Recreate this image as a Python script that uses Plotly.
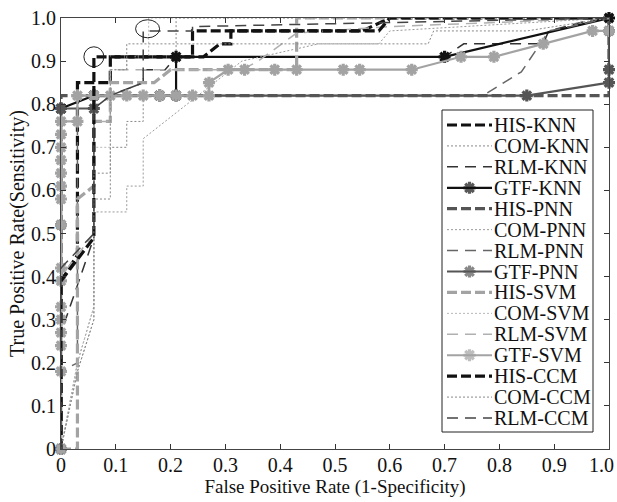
import plotly.graph_objects as go

# ---------------- data ----------------
names = ["HIS-KNN", "COM-KNN", "RLM-KNN", "GTF-KNN",
         "HIS-PNN", "COM-PNN", "RLM-PNN", "GTF-PNN",
         "HIS-SVM", "COM-SVM", "RLM-SVM", "GTF-SVM",
         "HIS-CCM", "COM-CCM", "RLM-CCM"]

his_knn_x = [0, 0, 0.03, 0.03, 0.09, 0.09, 0.26, 0.29, 0.31, 0.31, 0.55, 0.60, 1.0]
his_knn_y = [0, 0.39, 0.45, 0.85, 0.85, 0.91, 0.91, 0.94, 0.94, 0.97, 0.97, 1.0, 1.0]

com_knn_x = [0, 0.03, 0.06, 0.06, 0.09, 0.09, 0.12, 0.12, 0.15, 0.15, 0.21, 0.21, 1.0]
com_knn_y = [0, 0.20, 0.33, 0.58, 0.58, 0.70, 0.70, 0.76, 0.76, 0.82, 0.82, 1.0, 1.0]

rlm_knn_x = [0, 0, 0.06, 0.06, 0.09, 0.15, 0.15, 0.19, 0.21, 0.70, 0.735, 0.88, 0.89, 0.95, 1.0]
rlm_knn_y = [0, 0.27, 0.49, 0.79, 0.82, 0.85, 0.88, 0.88, 0.91, 0.91, 0.94, 0.94, 0.97, 0.99, 1.0]

gtf_knn_x = [0, 0, 0.06, 0.18, 0.21, 0.21, 0.70, 1.0]
gtf_knn_y = [0, 0.79, 0.82, 0.82, 0.82, 0.91, 0.91, 1.0]

his_pnn_x = [0, 0, 1.0, 1.0]
his_pnn_y = [0, 0.82, 0.82, 1.0]

com_pnn_x = [0, 0.03, 0.06, 0.06, 0.12, 0.12, 0.15, 0.15, 0.33, 0.47, 0.58, 0.60, 1.0]
com_pnn_y = [0, 0.18, 0.30, 0.55, 0.55, 0.61, 0.61, 0.72, 0.90, 0.94, 0.94, 0.97, 1.0]

rlm_pnn_x = [0, 0, 0.03, 0.03, 0.77, 0.84, 0.88, 0.89, 0.93, 1.0]
rlm_pnn_y = [0, 0.18, 0.20, 0.82, 0.82, 0.875, 0.95, 0.97, 0.98, 1.0]

gtf_pnn_x = [0, 0, 0, 0.06, 0.06, 0.85, 1.0, 1.0, 1.0]
gtf_pnn_y = [0, 0.52, 0.79, 0.79, 0.82, 0.82, 0.85, 0.88, 0.97]

his_svm_x = [0, 0.03, 0.03, 0.06, 0.06, 0.09, 0.09, 0.17, 0.20, 0.43, 0.43, 1.0]
his_svm_y = [0, 0, 0.58, 0.61, 0.76, 0.76, 0.85, 0.85, 0.88, 0.88, 1.0, 1.0]

com_svm_x = [0, 0.03, 0.06, 0.06, 0.09, 0.09, 0.12, 0.12, 0.16, 0.16, 1.0]
com_svm_y = [0, 0.20, 0.33, 0.70, 0.70, 0.88, 0.88, 0.91, 0.91, 1.0, 1.0]

rlm_svm_x = [0, 0, 0.06, 0.06, 0.09, 0.09, 0.33, 0.36, 0.43, 0.60, 1.0]
rlm_svm_y = [0, 0.40, 0.50, 0.76, 0.76, 0.88, 0.88, 0.90, 0.965, 0.98, 1.0]

gtf_svm_x = [0, 0, 0, 0, 0, 0, 0, 0, 0, 0, 0, 0, 0, 0, 0, 0,
             0.03, 0.03, 0.06, 0.09, 0.12, 0.15, 0.18, 0.21, 0.24, 0.27, 0.27,
             0.305, 0.335, 0.39, 0.43, 0.515, 0.545, 0.64, 0.73, 0.79, 0.88, 0.97, 1.0]
gtf_svm_y = [0, 0.18, 0.24, 0.27, 0.30, 0.33, 0.39, 0.42, 0.52, 0.58, 0.61, 0.64, 0.67, 0.70, 0.73, 0.76,
             0.76, 0.82, 0.82, 0.82, 0.82, 0.82, 0.82, 0.82, 0.82, 0.82, 0.85,
             0.88, 0.88, 0.88, 0.88, 0.88, 0.88, 0.88, 0.91, 0.91, 0.94, 0.97, 0.97]

his_ccm_x = [0, 0, 0.06, 0.06, 0.24, 0.24, 0.58, 0.60, 1.0]
his_ccm_y = [0, 0.39, 0.49, 0.91, 0.91, 0.97, 0.97, 1.0, 1.0]

com_ccm_x = [0, 0.03, 0.06, 0.06, 0.09, 0.09, 0.12, 0.12, 0.44, 0.67, 0.68, 0.85, 1.0]
com_ccm_y = [0, 0.18, 0.30, 0.64, 0.64, 0.88, 0.88, 0.94, 0.94, 0.94, 0.97, 0.97, 1.0]

rlm_ccm_x = [0, 0, 0.06, 0.06, 0.09, 0.15, 0.15, 0.24, 0.24, 0.60, 1.0]
rlm_ccm_y = [0, 0.42, 0.50, 0.79, 0.82, 0.85, 0.97, 0.97, 0.98, 0.99, 1.0]

# highlighted operating points (circled in the figure)
circled_x = [0.06, 0.158]
circled_y = [0.91, 0.975]

tick_vals = [0, 0.1, 0.2, 0.3, 0.4, 0.5, 0.6, 0.7, 0.8, 0.9, 1.0]
tick_text_y = ["0", "0.1", "0.2", "0.3", "0.4", "0.5", "0.6", "0.7", "0.8", "0.9", "1.0"]
tick_text_x = ["0", "0.1", "0.2", "0.3", "0.4", "0.5", "0.6", "0.7", "0.8", "0.9", ""]
last_x_label = "1.0"

series_x = [his_knn_x, com_knn_x, rlm_knn_x, gtf_knn_x,
            his_pnn_x, com_pnn_x, rlm_pnn_x, gtf_pnn_x,
            his_svm_x, com_svm_x, rlm_svm_x, gtf_svm_x,
            his_ccm_x, com_ccm_x, rlm_ccm_x]
series_y = [his_knn_y, com_knn_y, rlm_knn_y, gtf_knn_y,
            his_pnn_y, com_pnn_y, rlm_pnn_y, gtf_pnn_y,
            his_svm_y, com_svm_y, rlm_svm_y, gtf_svm_y,
            his_ccm_y, com_ccm_y, rlm_ccm_y]

# ---------------- styles ----------------
BLACK = "#111111"
DARK = "#555555"
LIGHT = "#a3a3a3"
fam_color = {"KNN": BLACK, "PNN": DARK, "SVM": LIGHT, "CCM": BLACK}
com_color = {"KNN": "#888888", "PNN": "#9a9a9a", "SVM": "#b8b8b8", "CCM": "#888888"}
rlm_color = {"KNN": "#333333", "PNN": "#666666", "SVM": "#b0b0b0", "CCM": "#444444"}


def style(name):
    feat, clf = name.split("-")
    c = fam_color[clf]
    if feat == "HIS":
        return dict(line=dict(color=c, width=3.2, dash="10px,4px"), mode="lines")
    if feat == "COM":
        return dict(line=dict(color=com_color[clf], width=1, dash="2px,2px"), mode="lines")
    if feat == "RLM":
        return dict(line=dict(color=rlm_color[clf], width=1.5, dash="11px,7px"), mode="lines")
    return dict(line=dict(color=c, width=2.2), mode="lines+markers",
                marker=dict(symbol="asterisk-open", size=10, color=c,
                            line=dict(color=c, width=3.2)))


fig = go.Figure()
for nm, xs, ys in zip(names, series_x, series_y):
    fig.add_trace(go.Scatter(x=xs, y=ys, name=nm, cliponaxis=False,
                             showlegend=False, hoverinfo="skip", **style(nm)))

# ---------------- legend box (drawn in axis coordinates) ----------------
PLOT_L, PLOT_W, PLOT_B, PLOT_H = 61, 548, 449, 431


def px2x(px):
    return (px - PLOT_L) / PLOT_W


def py2y(py):
    return (PLOT_B - py) / PLOT_H


bx0, bx1, by0, by1 = px2x(442), px2x(593), py2y(432), py2y(110)
fig.add_trace(go.Scatter(x=[bx0, bx1, bx1, bx0, bx0], y=[by0, by0, by1, by1, by0],
                         mode="lines", fill="toself", fillcolor="white",
                         line=dict(color="#222222", width=1), showlegend=False,
                         hoverinfo="skip", cliponaxis=False))

font_fam = "Liberation Serif, Times New Roman, serif"
annotations = []
sx0, sx1 = px2x(447), px2x(492)
for i, nm in enumerate(names):
    yc = py2y(125 + 20.93 * i)
    st = style(nm)
    tr = dict(x=[sx0, (sx0 + sx1) / 2, sx1], y=[yc, yc, yc], showlegend=False,
              hoverinfo="skip", cliponaxis=False, line=st["line"], mode=st["mode"])
    if "marker" in st:
        mk = dict(st["marker"])
        mk["size"] = [0, 10, 0]
        tr["marker"] = mk
    fig.add_trace(go.Scatter(**tr))
    annotations.append(dict(x=sx1, y=yc, xref="x", yref="y", text=nm, showarrow=False,
                            xanchor="left", yanchor="middle", xshift=0,
                            font=dict(family=font_fam, size=20, color="#111111")))

# last x tick label, kept inside the page
annotations.append(dict(x=1.0, y=0, xref="x", yref="y", text=last_x_label, showarrow=False,
                        xanchor="right", yanchor="middle", xshift=7, yshift=-16,
                        font=dict(family=font_fam, size=20, color="#111111")))

shapes = []
for cx, cy, rx, ry in zip(circled_x, circled_y, [10, 12], [10, 9]):
    shapes.append(dict(type="circle", xref="x", yref="y", xsizemode="pixel",
                       ysizemode="pixel", xanchor=cx, yanchor=cy,
                       x0=-rx, x1=rx, y0=-ry, y1=ry,
                       line=dict(color="#222222", width=1), layer="above"))

axis_common = dict(
    range=[0, 1.0], tickvals=tick_vals,
    ticks="inside", ticklen=5, tickcolor="#333333", tickwidth=1,
    showline=True, linecolor="#444444", linewidth=1, mirror="ticks",
    showgrid=False, zeroline=False, automargin=False, ticklabeloverflow="allow",
    tickfont=dict(family=font_fam, size=20, color="#111111"),
)

fig.update_layout(
    width=617, height=502,
    margin=dict(l=61, r=8, t=18, b=53),
    paper_bgcolor="white", plot_bgcolor="white",
    font=dict(family=font_fam, color="#111111"),
    xaxis=dict(**axis_common, ticktext=tick_text_x, ticklabelstandoff=-2,
               title=dict(text="False Positive Rate (1-Specificity)",
                          font=dict(family=font_fam, size=19), standoff=4)),
    yaxis=dict(**axis_common, ticktext=tick_text_y, ticklabelstandoff=0,
               title=dict(text="True Positive Rate(Sensitivity)",
                          font=dict(family=font_fam, size=20), standoff=1)),
    annotations=annotations,
    shapes=shapes,
    showlegend=False,
)

fig.write_html("out.html", post_script="document.body.style.margin='0';",
               config={"displayModeBar": False})
